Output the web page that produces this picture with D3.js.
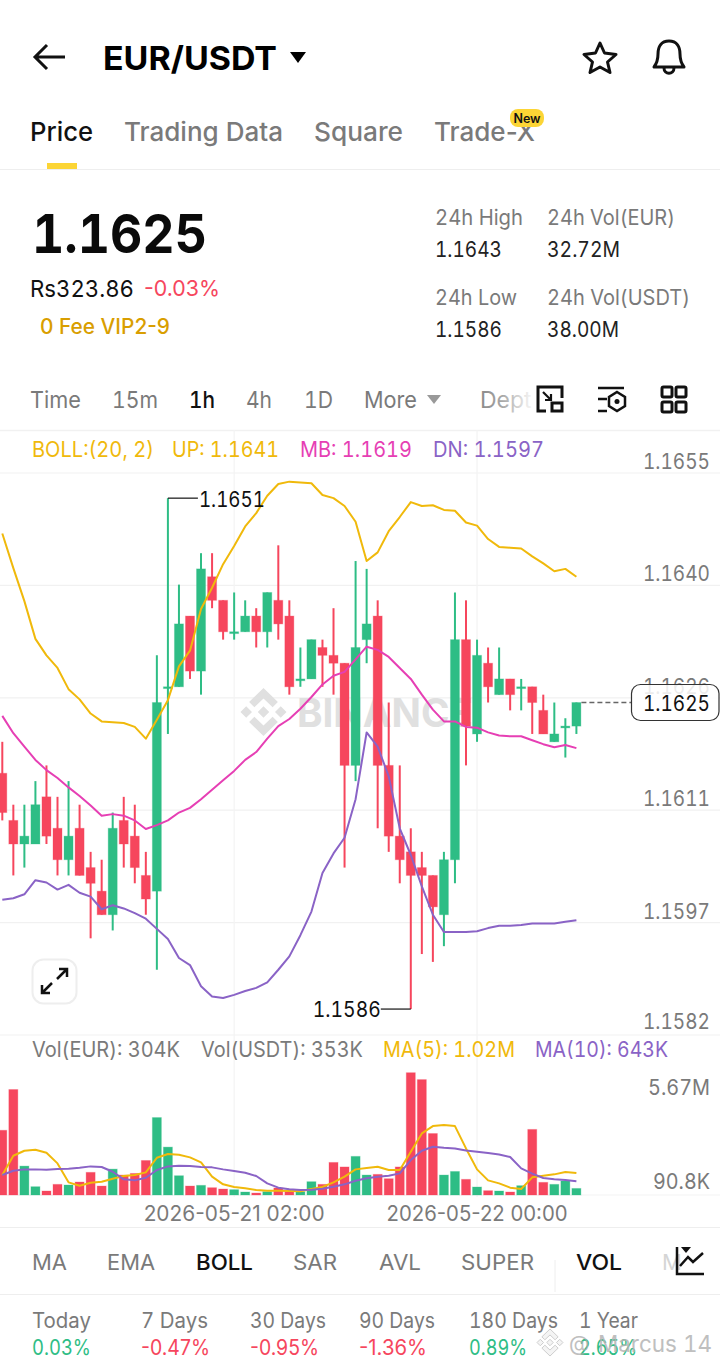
<!DOCTYPE html>
<html><head><meta charset="utf-8">
<script src="https://cdn.jsdelivr.net/npm/d3@7/dist/d3.min.js"></script>
<style>html,body{margin:0;padding:0;background:#fff;overflow:hidden}svg{display:block}
text{font-family:"Inter","Lato",sans-serif;font-variant-numeric:tabular-nums}</style></head><body>
<script>
const opens=[1.1616,1.1610,1.1607,1.1607,1.1613,1.1609,1.1605,1.1609,1.1604,1.1601,1.1598,1.1610,1.1608,1.1603,1.1601,1.1627,1.1627,1.1636,1.1629,1.1641,1.1638,1.1634,1.1634,1.1636,1.1634,1.1638,1.1636,1.1628,1.1628,1.1632,1.1631,1.1630,1.1617,1.1633,1.1636,1.1617,1.1608,1.1606,1.1604,1.1603,1.1598,1.1605,1.1633,1.1621,1.1630,1.1626,1.1628,1.1627,1.1627,1.1624,1.1620,1.1622,1.1622];
const closes=[1.1611,1.1607,1.1608,1.1612,1.1608,1.1605,1.1608,1.1603,1.1602,1.1598,1.1609,1.1607,1.1604,1.1600,1.1625,1.1627,1.1635,1.1629,1.1642,1.1638,1.1634,1.1634,1.1636,1.1634,1.1639,1.1635,1.1627,1.1628,1.1633,1.1631,1.1630,1.1617,1.1632,1.1635,1.1617,1.1608,1.1605,1.1603,1.1603,1.1599,1.1605,1.1633,1.1622,1.1631,1.1627,1.1628,1.1626,1.1627,1.1625,1.1621,1.1621,1.1622,1.1625];
const highs=[1.1620,1.1612,1.1612,1.1615,1.1617,1.1613,1.1615,1.1612,1.1606,1.1605,1.1611,1.1613,1.1612,1.1606,1.1631,1.1651,1.1640,1.1636,1.1644,1.1644,1.1638,1.1639,1.1638,1.1637,1.1639,1.1645,1.1638,1.1632,1.1633,1.1633,1.1637,1.1630,1.1643,1.1642,1.1638,1.1625,1.1617,1.1609,1.1606,1.1603,1.1606,1.1639,1.1638,1.1633,1.1632,1.1632,1.1628,1.1628,1.1627,1.1626,1.1625,1.1623,1.1625];
const lows=[1.1610,1.1603,1.1604,1.1607,1.1607,1.1603,1.1603,1.1603,1.1595,1.1598,1.1596,1.1604,1.1602,1.1598,1.1591,1.1621,1.1627,1.1628,1.1626,1.1637,1.1633,1.1633,1.1634,1.1632,1.1632,1.1633,1.1626,1.1627,1.1628,1.1627,1.1626,1.1604,1.1615,1.1630,1.1609,1.1606,1.1602,1.1586,1.1593,1.1592,1.1594,1.1602,1.1617,1.1620,1.1625,1.1626,1.1624,1.1624,1.1621,1.1621,1.1620,1.1618,1.1621];
const bollUp=[1.16465,1.16421,1.16379,1.16331,1.16310,1.16294,1.16267,1.16254,1.16236,1.16226,1.16225,1.16224,1.16219,1.16204,1.16228,1.16253,1.16296,1.16316,1.16369,1.16396,1.16426,1.16449,1.16474,1.16491,1.16513,1.16528,1.16531,1.16530,1.16529,1.16514,1.16510,1.16500,1.16480,1.16430,1.16441,1.16468,1.16486,1.16505,1.16500,1.16501,1.16495,1.16494,1.16479,1.16475,1.16458,1.16448,1.16447,1.16446,1.16436,1.16427,1.16417,1.16420,1.16410];
const bollMb=[1.16233,1.16211,1.16194,1.16177,1.16164,1.16154,1.16142,1.16131,1.16119,1.16106,1.16108,1.16106,1.16100,1.16089,1.16094,1.16100,1.16110,1.16116,1.16127,1.16139,1.16151,1.16163,1.16177,1.16187,1.16204,1.16220,1.16229,1.16242,1.16257,1.16273,1.16284,1.16289,1.16305,1.16321,1.16317,1.16308,1.16294,1.16280,1.16260,1.16241,1.16226,1.16226,1.16219,1.16218,1.16212,1.16208,1.16207,1.16207,1.16202,1.16197,1.16193,1.16196,1.16192];
const bollDn=[1.15999,1.16001,1.16006,1.16024,1.16021,1.16012,1.16018,1.16008,1.16003,1.15987,1.15992,1.15988,1.15982,1.15975,1.15962,1.15949,1.15925,1.15916,1.15889,1.15876,1.15874,1.15878,1.15883,1.15887,1.15894,1.15910,1.15927,1.15954,1.15984,1.16033,1.16058,1.16078,1.16127,1.16212,1.16194,1.16156,1.16090,1.16056,1.16016,1.15980,1.15958,1.15958,1.15958,1.15959,1.15963,1.15966,1.15966,1.15967,1.15969,1.15969,1.15969,1.15971,1.15973];
const volumes=[3000,4890,1340,385,185,493,463,601,1050,416,1200,925,1000,1600,3590,2220,894,416,447,339,277,247,139,90.8,154,324,154,154,617,493,1510,1300,1790,925,956,755,1300,5670,5350,2850,925,1090,725,370,200,185,139,432,3040,586,493,648,304];
const volMa5=[926,1821,2052,2098,1960,1466,586,432,571,617,756,880,926,1049,1728,1898,1867,1744,1512,849,494,370,309,231,201,201,185,170,278,370,586,849,1188,1250,1312,1157,1157,2006,2855,3194,3240,3194,2160,1188,679,540,339,278,818,895,957,1065,1020];
const volMa10=[926,1126,1188,1188,1173,1204,1219,1265,1327,1296,1080,725,679,802,1157,1327,1358,1342,1296,1281,1188,1111,1034,880,540,339,262,231,247,293,386,494,663,772,849,895,1003,1620,2052,2237,2191,2160,2068,2006,1944,1882,1759,1234,988,787,725,694,643];
const priceTicks=[1.16542,1.16399,1.16256,1.16113,1.1597,1.15827];
const priceTickLabels=["1.1655","1.1640","1.1626","1.1611","1.1597","1.1582"];
const dateTickIndex=[21,43];
const dateTickLabels=["2026-05-21 02:00","2026-05-22 00:00"];
const volTicks=[{v:5670,t:"5.67M"},{v:90.8,t:"90.8K"}];

const GREEN="#2EBD85",RED="#F6465D",GOLD="#F0B90B",PINK="#E63FB4",PURPLE="#8A63C6",GRAY="#7a7a7a",DARK="#111";
const svg=d3.select("body").append("svg").attr("width",720).attr("height",1368);
const defs=svg.append("defs");
const fade=defs.append("linearGradient").attr("id","fade").attr("gradientUnits","userSpaceOnUse").attr("x1",480).attr("x2",530).attr("y1",0).attr("y2",0);
fade.append("stop").attr("offset",0).attr("stop-color","#8a8a8a");
fade.append("stop").attr("offset",.45).attr("stop-color","#a8a8a8");
fade.append("stop").attr("offset",1).attr("stop-color","#f2f2f2");
const x=d3.scaleLinear().domain([0,52]).range([2.3,576.4]);
const y=d3.scaleLinear().domain([1.15827,1.16542]).range([1035,473]);
const yv=d3.scaleLinear().domain([0,5670]).range([1195,1072.7]);
const line=(sel,x1,y1,x2,y2,c,w)=>sel.append("line").attr("x1",x1).attr("y1",y1).attr("x2",x2).attr("y2",y2).attr("stroke",c).attr("stroke-width",w||1);
function T(px,py,s,size,color,weight,anchor,op,w){const e=svg.append("text").attr("x",px).attr("y",py).text(s).attr("font-size",size).attr("fill",color).attr("font-weight",weight||400).attr("text-anchor",anchor||"start").attr("opacity",op==null?1:op);
 if(w)e.attr("textLength",w).attr("lengthAdjust","spacingAndGlyphs");
 if(s.includes("-"))e.style("font-variant-numeric","normal");
 return e;}

// page lines
line(svg,0,169.5,720,169.5,"#eeeeee");
line(svg,0,430.5,720,430.5,"#f1f1f1",1.5);
line(svg,0,1227.5,720,1227.5,"#eeeeee");
line(svg,0,1294.5,720,1294.5,"#eeeeee");

// grid
const grid=svg.append("g");
priceTicks.forEach(p=>line(grid,0,y(p),720,y(p),"#f1f1f1",1.2));
dateTickIndex.forEach(i=>line(grid,x(i),430,x(i),1197,"#f3f3f3",1.2));
line(grid,0,1195,720,1195,"#f3f3f3",1);

// watermark
const wm=svg.append("g").attr("fill","#e0e0e0");
const dia=(g,cx,cy,r)=>g.append("path").attr("d",`M${cx} ${cy-r}L${cx+r} ${cy}L${cx} ${cy+r}L${cx-r} ${cy}Z`);
function logo(g,cx,cy,s){
  dia(g,cx,cy,s*.24);dia(g,cx-s*.72,cy,s*.24);dia(g,cx+s*.72,cy,s*.24);
  g.append("path").attr("d",`M${cx} ${cy-s}L${cx+s*.6} ${cy-s*.42}L${cx+s*.38} ${cy-s*.2}L${cx} ${cy-s*.56}L${cx-s*.38} ${cy-s*.2}L${cx-s*.6} ${cy-s*.42}Z`);
  g.append("path").attr("d",`M${cx} ${cy+s}L${cx+s*.6} ${cy+s*.42}L${cx+s*.38} ${cy+s*.2}L${cx} ${cy+s*.56}L${cx-s*.38} ${cy+s*.2}L${cx-s*.6} ${cy+s*.42}Z`);
}
logo(wm,263.5,712,24);
T(297,727,"BINANCE",40,"#e0e0e0",700,"start",1,176);

// candles
const cg=svg.append("g");
opens.forEach((o,i)=>{
  const c=closes[i],col=c>=o?GREEN:RED;
  line(cg,x(i),y(highs[i]),x(i),y(lows[i]),col,2);
  const t=y(Math.max(o,c)),b=y(Math.min(o,c));
  cg.append("rect").attr("x",x(i)-4.5).attr("width",9).attr("y",t).attr("height",Math.max(1.8,b-t)).attr("fill",col).attr("stroke",col).attr("stroke-opacity",.3).attr("stroke-width",1);
});
const path=(xf,yf,data,color,w)=>svg.append("path").datum(data).attr("fill","none").attr("stroke",color).attr("stroke-width",w).attr("stroke-linejoin","round")
  .attr("d",d3.line().x((d,i)=>xf(i)).y(d=>yf(d)));
path(x,y,bollUp,GOLD,2);path(x,y,bollMb,PINK,2);path(x,y,bollDn,PURPLE,2);

// price axis
const ax=svg.append("g").attr("transform","translate(710,0)").call(d3.axisRight(y).tickValues(priceTicks).tickSize(0).tickPadding(0).tickFormat((d,i)=>priceTickLabels[i]));
ax.select(".domain").remove();
ax.selectAll("text").attr("text-anchor","end").attr("font-size",21).attr("fill",GRAY).attr("font-family",null).attr("dy",null).attr("y",-4.5).attr("textLength",67).attr("lengthAdjust","spacingAndGlyphs");
ax.selectAll("text").filter((d,i)=>i==5).attr("y",-7);

// hi/lo markers
const iHi=highs.indexOf(d3.max(highs)),iLo=lows.indexOf(d3.min(lows));
line(svg,x(iHi),y(highs[iHi]),x(iHi)+30,y(highs[iHi]),DARK,1.2);
T(x(iHi)+31,y(highs[iHi])+9,"1.1651",21,DARK,400,"start",1,66);
line(svg,x(iLo),y(lows[iLo]),x(iLo)-30,y(lows[iLo]),DARK,1.2);
T(x(iLo)-30,y(lows[iLo])+8,"1.1586",21,DARK,400,"end",1,68);

// last price
const last=closes[closes.length-1];
svg.append("line").attr("x1",x(52)+5).attr("x2",632).attr("y1",y(last)).attr("y2",y(last)).attr("stroke","#666").attr("stroke-width",1.4).attr("stroke-dasharray","5 3");
svg.append("rect").attr("x",631.5).attr("y",684.5).attr("width",87.5).attr("height",36).attr("rx",9).attr("fill","#fff").attr("fill-opacity",.85).attr("stroke","#333").attr("stroke-width",1.2);
T(710,711,"1.1625",21,DARK,400,"end",1,67);

// volume
const vg=svg.append("g");
volumes.forEach((v,i)=>{const col=closes[i]>=opens[i]?GREEN:RED;vg.append("rect").attr("x",x(i)-4.5).attr("width",9).attr("y",yv(v)).attr("height",yv(0)-yv(v)).attr("fill",col).attr("stroke",col).attr("stroke-opacity",.3).attr("stroke-width",1);});
path(x,yv,volMa5,GOLD,2);path(x,yv,volMa10,PURPLE,2);
T(710,1095,volTicks[0].t,21,GRAY,400,"end",1,62);
T(710,1189,volTicks[1].t,21,GRAY,400,"end",1,57);

// date axis
const dx=svg.append("g").attr("transform","translate(-0.5,1221)").call(d3.axisBottom(x).tickValues(dateTickIndex).tickSize(0).tickPadding(0).tickFormat((d,i)=>dateTickLabels[i]));
dx.select(".domain").remove();
dx.selectAll("text").attr("font-size",21).attr("fill",GRAY).attr("font-family",null).attr("y",0).attr("dy",null).attr("textLength",181).attr("lengthAdjust","spacingAndGlyphs").style("font-variant-numeric","normal");

// header
svg.append("path").attr("d","M65 57H36M47 45L35 57L47 69").attr("fill","none").attr("stroke","#111").attr("stroke-width",3);
T(103,70,"EUR/USDT",33,"#000",700,"start",1,174);
svg.append("path").attr("d","M290 52H306L298 63Z").attr("fill","#000");
svg.append("path").attr("d","M600 43L604.5 53L616 54.5L607.5 62L610 72.5L600 67L590 72.5L592.5 62L584 54.5L595.5 53Z").attr("fill","none").attr("stroke","#111").attr("stroke-width",3).attr("stroke-linejoin","round");
svg.append("path").attr("d","M669 41C661 41 658 47 658 54C658 60 657 63 654 67H684C681 63 680 60 680 54C680 47 677 41 669 41ZM664 68C664 75 674 75 674 68").attr("fill","none").attr("stroke","#111").attr("stroke-width",3).attr("stroke-linejoin","round");

// tabs
[["Price",30,"#111",63],["Trading Data",124,GRAY,159],["Square",314,GRAY,89],["Trade-X",434,GRAY,101]].forEach(d=>T(d[1],141,d[0],26,d[2],500,"start",1,d[3]));
svg.append("rect").attr("x",47).attr("y",163).attr("width",30).attr("height",6).attr("fill","#FCD535");
svg.append("rect").attr("x",510).attr("y",109).attr("width",34).attr("height",18).attr("rx",8).attr("fill","#FCD535");
T(527,123,"New",12.5,"#111",600,"middle");

// price block
T(32,253,"1.1625",54,"#0a0a0a",700,"start",1,175);
T(30,297,"Rs323.86",23.5,"#111",400,"start",1,104);
T(144,296,"-0.03%",22,RED,400,"start",1,76);
T(40,334,"0 Fee VIP2-9",21,"#D99E00",500,"start",1,130);
[["24h High",435,225,GRAY,88],["1.1643",435,257,"#222",67],["24h Vol(EUR)",547,225,GRAY,128],["32.72M",547,257,"#222",73],["24h Low",435,305,GRAY,82],["1.1586",435,337,"#222",67],["24h Vol(USDT)",547,305,GRAY,143],["38.00M",547,337,"#222",72]].forEach(d=>T(d[1],d[2],d[0],21,d[3],400,"start",1,d[4]));

// intervals
[["Time",30,GRAY,51],["15m",112,GRAY,46],["1h",189,"#111",26],["4h",246,GRAY,26],["1D",304,GRAY,29],["More",364,GRAY,53]].forEach(d=>T(d[1],408,d[0],23,d[2],d[0]=="1h"?500:400,"start",1,d[3]));
svg.append("path").attr("d","M427 395H441L434 404Z").attr("fill","#999");
T(480,408,"Dept",23,"url(#fade)");
// tool icons
const ic=svg.append("g").attr("fill","none").attr("stroke","#111").attr("stroke-width",3);
ic.append("path").attr("d","M546 387H562V398M546 387H538V411H546");
ic.append("rect").attr("x",552).attr("y",403).attr("width",10).attr("height",8);
ic.append("path").attr("d","M543 392L551 400M551 394V400H545").attr("stroke-width",2.2);
ic.append("path").attr("d","M598 388H624M598 399H607M598 411H607").attr("stroke-width",2.5);
ic.append("path").attr("d","M617 392L625 397V406L617 411L609 406V397Z").attr("stroke-width",2.5);
svg.append("circle").attr("cx",617).attr("cy",401.5).attr("r",2.5).attr("fill","#111");
[[662,387],[676,387],[662,402],[676,402]].forEach(p=>ic.append("rect").attr("x",p[0]).attr("y",p[1]).attr("width",10).attr("height",10).attr("rx",1.5));

// boll legend
T(32,457,"BOLL:(20, 2)",21,GOLD,400,"start",1,122);
T(172,457,"UP: 1.1641",21,GOLD,400,"start",1,107);
T(300,457,"MB: 1.1619",21,PINK,400,"start",1,112);
T(433,457,"DN: 1.1597",21,PURPLE,400,"start",1,111);

// expand button
svg.append("rect").attr("x",32.5).attr("y",959.5).attr("width",44).attr("height",44).attr("rx",11).attr("fill","#fff").attr("stroke","#eee").attr("stroke-width",2);
svg.append("path").attr("d","M42 993L52 983M42 985V993H50M67 969L57 979M59 969H67V977").attr("fill","none").attr("stroke","#111").attr("stroke-width",2.5);

// volume legend
T(32,1057,"Vol(EUR): 304K",21,GRAY,400,"start",1,148);
T(201,1057,"Vol(USDT): 353K",21,GRAY,400,"start",1,162);
T(383,1057,"MA(5): 1.02M",21,GOLD,400,"start",1,132);
T(535,1057,"MA(10): 643K",21,PURPLE,400,"start",1,133);

// indicator tabs
[["MA",32,GRAY,35],["EMA",107,GRAY,48],["BOLL",196,"#111",57],["SAR",293,GRAY,44],["AVL",379,GRAY,42],["SUPER",461,GRAY,73],["VOL",576,"#111",46]].forEach(d=>T(d[1],1270,d[0],22,d[2],d[2]=="#111"?500:400,"start",1,d[3]));
T(662,1270,"M",22,"#d5d5d5");
line(svg,555,1260,555,1292,"#eee");
svg.append("path").attr("d","M677 1247V1274H704M680 1266L688 1257L693 1262L703 1253").attr("fill","none").attr("stroke","#111").attr("stroke-width",2.5);
svg.append("path").attr("d","M681 1247H691L686 1253Z").attr("fill","#111");

// performance
[["Today","0.03%",32,GREEN,59,59],["7 Days","-0.47%",141,RED,67,69],["30 Days","-0.95%",250,RED,76,69],["90 Days","-1.36%",359,RED,76,68],["180 Days","0.89%",469,GREEN,89,58],["1 Year","2.65%",579,GREEN,59,58]].forEach(d=>{T(d[2],1328,d[0],21,GRAY,400,"start",1,d[4]);T(d[2],1355,d[1],21,d[3],400,"start",1,d[5]);});
// author watermark
const am=svg.append("g").attr("fill","#f4f4f4").attr("stroke","#ccc").attr("stroke-width",1).attr("opacity",.95);
logo(am,550,1342.5,13.5);
T(569,1351,"@",21,"#aaa",400,"start",.75);
T(598,1352,"Marcus 14",23,"#b4b4b4",400,"start",.85,114);
</script></body></html>
